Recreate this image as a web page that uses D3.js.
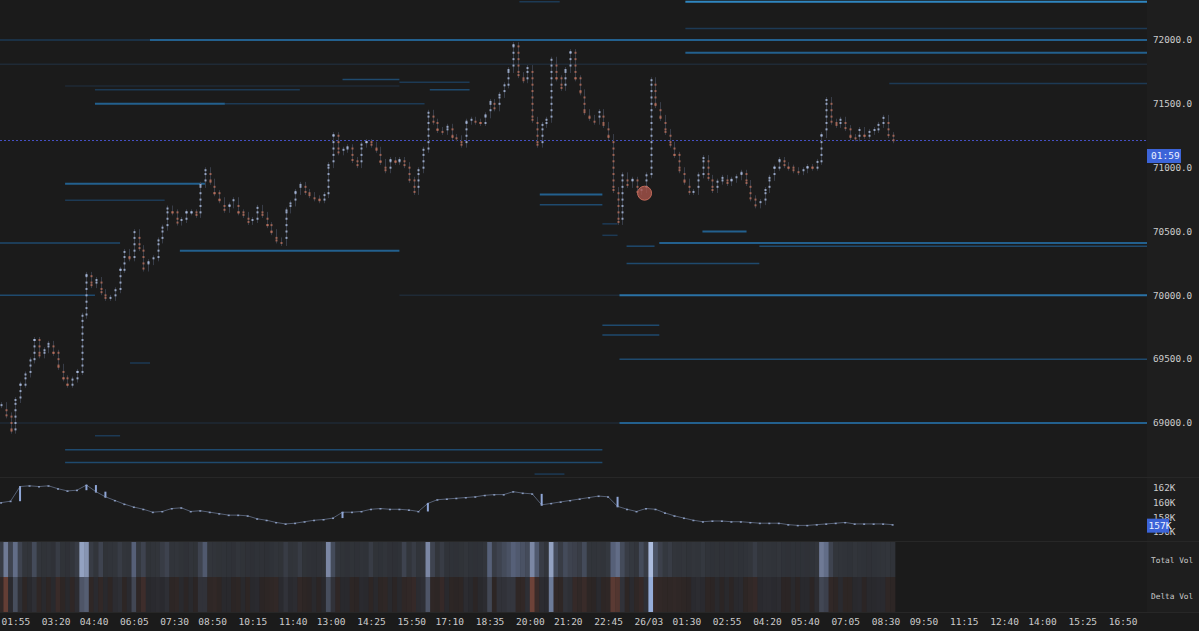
<!DOCTYPE html>
<html><head><meta charset="utf-8">
<script src="https://cdn.jsdelivr.net/npm/d3@7"></script>
<style>html,body{margin:0;padding:0;background:#1b1b1b;overflow:hidden}</style>
</head><body>
<svg id="chart" width="1199" height="631"></svg>
<script>
// ---------------- DATA ----------------
const candleStart = "2024-03-25T01:25";
const candleMinutes = 10;
const closes = [69140,69060,68940,69180,69300,69380,69490,69650,69530,69570,
69620,69550,69440,69350,69300,69340,69400,69840,70160,70080,
70120,70025,69980,69980,70040,70200,70340,70290,70495,70370,
70210,70260,70290,70430,70530,70680,70650,70570,70590,70650,
70650,70630,70865,70980,70890,70800,70745,70670,70705,70745,
70650,70630,70575,70590,70685,70630,70550,70495,70430,70410,
70665,70720,70810,70865,70810,70785,70760,70745,70785,71020,
71255,71120,71140,71160,71060,71020,71180,71200,71180,71140,
71045,70980,71060,71045,71060,71020,70905,70810,70980,71140,
71430,71360,71295,71280,71320,71240,71230,71180,71360,71375,
71360,71350,71410,71515,71465,71570,71645,71765,71960,71725,
71685,71780,71375,71180,71335,71375,71845,71700,71625,71765,
71905,71700,71590,71435,71390,71360,71435,71335,71240,70825,
70575,70940,70865,70905,70810,70825,70940,71685,71490,71390,
71280,71180,71100,70980,70890,70810,70810,70940,71075,70920,
70825,70890,70920,70880,70905,70925,70960,70880,70760,70705,
70730,70825,70920,71000,71060,71020,71000,70980,70965,70980,
71005,71000,71045,71255,71530,71360,71335,71375,71310,71240,
71230,71295,71250,71280,71295,71335,71390,71255,71215];

const oiStart = "2024-03-25T01:25";
const oiMinutes = 20;
const openInterestK = [160.0,160.2,162.2,162.3,162.2,162.3,161.9,161.6,161.7,162.4,
161.5,160.8,160.3,159.8,159.4,159.1,158.7,158.8,159.2,159.3,
158.8,158.9,158.7,158.5,158.3,158.3,158.2,157.8,157.6,157.3,
157.1,157.2,157.4,157.6,157.7,157.9,158.7,158.7,158.8,159.1,
159.2,159.1,159.1,159.0,158.8,159.9,160.4,160.5,160.6,160.7,
160.8,161.0,161.1,161.1,161.5,161.3,161.2,159.7,159.9,160.1,
160.3,160.5,160.7,160.9,160.8,159.5,159.1,158.8,159.2,159.1,
158.6,158.2,157.9,157.6,157.4,157.5,157.5,157.4,157.4,157.3,
157.2,157.2,157.2,157.0,156.9,156.9,157.0,157.1,157.2,157.3,
157.1,157.1,157.1,157.1,157.0];

const totalVol = [35,70,40,65,40,30,28,45,30,25,28,22,35,25,22,30,35,85,80,35,
30,40,25,28,30,35,30,28,60,32,40,25,28,30,35,40,28,30,25,22,
28,25,40,55,30,28,25,26,24,22,30,25,22,20,24,22,20,24,28,25,
35,28,30,35,25,22,20,22,25,75,45,30,25,22,25,22,26,24,35,25,
24,28,22,20,24,40,30,35,28,30,75,40,30,35,26,24,22,25,30,24,
22,24,30,60,35,40,45,50,60,55,50,45,75,55,35,30,85,45,35,45,
40,38,35,45,30,28,30,28,32,60,65,45,35,32,30,45,35,95,50,38,
32,35,30,28,30,26,30,28,32,26,24,25,22,24,22,25,24,26,30,35,
28,30,28,26,30,24,22,24,22,24,22,24,30,70,65,40,30,28,26,24,
30,26,24,22,24,26,28,30,26];

const deltaVol = [-20,-60,10,50,20,-10,5,20,-15,5,-10,5,-30,-10,5,-15,15,55,60,-15,
10,-20,5,-10,15,20,-10,10,45,-15,-35,5,10,15,10,20,-10,-15,5,-5,
5,-5,25,25,-15,-20,-10,5,5,-5,-10,5,-10,5,10,-5,-10,-15,-20,10,
25,10,15,-20,-10,-5,5,-5,5,50,25,-15,5,5,-10,-5,10,5,-10,5,
-10,-15,5,-5,5,-15,-20,-25,15,20,55,-15,-10,-25,5,-10,-5,-10,15,5,
-5,5,15,45,-10,25,25,30,30,-15,-20,20,-65,-30,15,10,75,-20,-15,25,
20,-25,-20,-30,-10,-5,10,-10,-15,-55,-50,25,-10,10,-15,-25,20,95,-25,-20,
-15,-15,-20,-15,-10,-5,10,15,10,-10,-5,5,-5,5,-5,5,10,-10,-20,-25,
10,15,15,10,15,-5,-5,5,-5,5,5,-5,15,45,40,-20,-10,10,-10,-10,
5,10,-5,5,5,10,10,-15,-10];

// resting liquidity: [price, start, end, level]
const liquidity = [
  [72300,"2024-03-26T01:28","2024-03-26T18:00",3],
  [72300,"2024-03-25T19:38","2024-03-25T21:03",1],
  [72090,"2024-03-26T01:28","2024-03-26T18:00",1],
  [72000,"2024-03-25T01:00","2024-03-25T06:39",1],
  [72000,"2024-03-25T06:39","2024-03-26T18:00",2],
  [71900,"2024-03-26T01:28","2024-03-26T18:00",2],
  [71810,"2024-03-25T01:00","2024-03-26T18:00",0.5],
  [71660,"2024-03-26T08:38","2024-03-26T18:00",1],
  [71640,"2024-03-25T03:40","2024-03-25T15:25",0.5],
  [71690,"2024-03-25T13:25","2024-03-25T15:25",1.5],
  [71670,"2024-03-25T15:25","2024-03-25T17:53",1],
  [71610,"2024-03-25T04:43","2024-03-25T11:55",1],
  [71610,"2024-03-25T16:29","2024-03-25T17:53",1.5],
  [71500,"2024-03-25T04:43","2024-03-25T09:17",2],
  [71500,"2024-03-25T09:17","2024-03-25T16:18",1],
  [70875,"2024-03-25T03:40","2024-03-25T08:35",2],
  [70745,"2024-03-25T03:40","2024-03-25T07:10",1],
  [70790,"2024-03-25T20:21","2024-03-25T22:33",2],
  [70710,"2024-03-25T20:21","2024-03-25T22:33",1.5],
  [70560,"2024-03-25T22:33","2024-03-25T23:05",1],
  [70470,"2024-03-25T22:33","2024-03-25T23:05",1],
  [70500,"2024-03-26T02:04","2024-03-26T03:37",2],
  [70410,"2024-03-25T01:00","2024-03-25T05:36",1.5],
  [70410,"2024-03-26T00:33","2024-03-26T18:00",2],
  [70385,"2024-03-25T23:24","2024-03-26T00:23",1.5],
  [70385,"2024-03-26T04:04","2024-03-26T18:00",1.5],
  [70350,"2024-03-25T07:42","2024-03-25T15:25",2],
  [70250,"2024-03-25T23:24","2024-03-26T04:04",1.5],
  [70000,"2024-03-25T01:00","2024-03-25T04:43",1.5],
  [70000,"2024-03-25T15:25","2024-03-25T23:09",0.5],
  [70000,"2024-03-25T23:09","2024-03-26T18:00",2.5],
  [69765,"2024-03-25T22:33","2024-03-26T00:33",1.5],
  [69690,"2024-03-25T22:33","2024-03-26T00:33",1.5],
  [69500,"2024-03-25T23:09","2024-03-26T18:00",1.5],
  [69470,"2024-03-25T05:57","2024-03-25T06:39",1],
  [69000,"2024-03-25T01:00","2024-03-25T23:09",0.5],
  [69000,"2024-03-25T23:09","2024-03-26T18:00",2],
  [68900,"2024-03-25T04:43","2024-03-25T05:36",1],
  [68790,"2024-03-25T03:40","2024-03-25T22:33",1.5],
  [68690,"2024-03-25T03:40","2024-03-25T22:33",1.5],
  [68600,"2024-03-25T20:10","2024-03-25T21:13",1]
];

// large trades: [time, price, radius]
const bubbles = [["2024-03-26T00:02",70800,7]];

const priceTicks = [69000,69500,70000,70500,71000,71500,72000];
const oiTicks = [156,158,160,162];
const timeTickTimes = ["2024-03-25T01:55","2024-03-25T03:20","2024-03-25T04:40","2024-03-25T06:05",
"2024-03-25T07:30","2024-03-25T08:50","2024-03-25T10:15","2024-03-25T11:40","2024-03-25T13:00",
"2024-03-25T14:25","2024-03-25T15:50","2024-03-25T17:10","2024-03-25T18:35","2024-03-25T20:00",
"2024-03-25T21:20","2024-03-25T22:45","2024-03-26T00:10","2024-03-26T01:30","2024-03-26T02:55",
"2024-03-26T04:20","2024-03-26T05:40","2024-03-26T07:05","2024-03-26T08:30","2024-03-26T09:50",
"2024-03-26T11:15","2024-03-26T12:40","2024-03-26T14:00","2024-03-26T15:25","2024-03-26T16:50"];
const timeTickLabels = ["01:55","03:20","04:40","06:05","07:30","08:50","10:15","11:40","13:00",
"14:25","15:50","17:10","18:35","20:00","21:20","22:45","26/03","01:30","02:55","04:20","05:40",
"07:05","08:30","09:50","11:15","12:40","14:00","15:25","16:50"];
const candleTimer = "01:59";
const lastOILabel = "157K";
const paneLabels = ["Total Vol","Delta Vol"];

// ---------------- LAYOUT ----------------
const W = 1199, H = 631, plotR = 1147;
const pane = {price:[0,477], oi:[478,541], tot:[542,577], del:[577,612]};
const font = "'DejaVu Sans Mono', 'Liberation Mono', monospace";
const svg = d3.select("#chart");
const parse = d3.isoParse;
const MIN = 60000;

svg.append("rect").attr("width",W).attr("height",H).attr("fill","#1b1b1b");
svg.append("rect").attr("x",plotR).attr("width",W-plotR).attr("height",612).attr("fill","#1e1e1e");

const x = d3.scaleTime()
  .domain([parse("2024-03-25T01:55"), parse("2024-03-26T16:50")])
  .range([15.3, 1122.6]);
const y = d3.scaleLinear().domain([69000,72000]).range([423,40]);
const yOI = d3.scaleLinear().domain([156,162]).range([532,488]);

const defs = svg.append("defs");
defs.append("clipPath").attr("id","clipP").append("rect").attr("x",0).attr("y",0).attr("width",plotR).attr("height",477);
defs.append("clipPath").attr("id","clipO").append("rect").attr("x",0).attr("y",478).attr("width",plotR).attr("height",63);

// pane separators
[477.5,541.5,612.5].forEach(v=>svg.append("line").attr("x1",0).attr("x2",W).attr("y1",v).attr("y2",v)
  .attr("stroke","#272727").attr("stroke-width",1));

// ---------------- PRICE PANE ----------------
const gP = svg.append("g").attr("clip-path","url(#clipP)");
const liqColor = d3.scaleLinear().domain([0.5,1,1.5,2,2.5,3])
  .range(["#1f2a36","#1d3a55","#1f4a6e","#23608e","#2a72a6","#2f86c0"]);
gP.selectAll("line.liq").data(liquidity).join("line").attr("class","liq")
  .attr("x1",d=>x(parse(d[1]))).attr("x2",d=>x(parse(d[2])))
  .attr("y1",d=>y(d[0])).attr("y2",d=>y(d[0]))
  .attr("stroke",d=>liqColor(d[3])).attr("stroke-width",d=>d[3]>=2?2:1.5);

const t0 = parse(candleStart).getTime();
const candles = closes.map((c,i)=>({t:new Date(t0+i*candleMinutes*MIN), o:i?closes[i-1]:c, c}));

// current price dotted line
const last = closes[closes.length-1];
gP.append("line").attr("x1",0).attr("x2",plotR).attr("y1",Math.round(y(last))+0.5).attr("y2",Math.round(y(last))+0.5)
  .attr("stroke","#4650c4").attr("stroke-width",1).attr("stroke-dasharray","2,2");

gP.selectAll("line.wick").data(candles).join("line").attr("class","wick")
  .attr("x1",d=>Math.round(x(d.t))+0.5).attr("x2",d=>Math.round(x(d.t))+0.5)
  .attr("y1",d=>y(Math.max(d.o,d.c))-3).attr("y2",d=>y(Math.min(d.o,d.c))+3)
  .attr("stroke","#383d48").attr("stroke-width",1);

const dots = [];
candles.forEach(d=>{
  const lo=Math.min(d.o,d.c), hi=Math.max(d.o,d.c), up=d.c>=d.o;
  for(let p=Math.ceil(lo/50)*50; p<=hi; p+=50) dots.push({t:d.t,p,up});
  dots.push({t:d.t,p:d.c,up});
});
gP.selectAll("rect.dot").data(dots).join("rect").attr("class","dot")
  .attr("x",d=>Math.round(x(d.t))-0.5).attr("y",d=>y(d.p)-1)
  .attr("width",2).attr("height",2)
  .attr("fill",d=>d.up?"#aebfe2":"#b8705e").attr("opacity",0.8);

gP.selectAll("circle.big").data(bubbles).join("circle").attr("class","big")
  .attr("cx",d=>x(parse(d[0]))).attr("cy",d=>y(d[1])).attr("r",d=>d[2])
  .attr("fill","#a8544a").attr("fill-opacity",0.8).attr("stroke","#c06a5a").attr("stroke-width",1);

// price axis labels
svg.append("g").selectAll("text").data(priceTicks).join("text")
  .attr("x",1153).attr("y",d=>y(d)).attr("dy","0.35em")
  .attr("font-family",font).attr("font-size",9.3).attr("fill","#cccccc")
  .text(d=>d3.format(".1f")(d));

// candle timer box
const ty = Math.round(y(last))+9;
svg.append("rect").attr("x",plotR).attr("y",ty).attr("width",34).attr("height",14).attr("fill","#3c64d8");
svg.append("text").attr("x",plotR+4).attr("y",ty+7).attr("dy","0.35em")
  .attr("font-family",font).attr("font-size",9.5).attr("fill","#eef2ff").text(candleTimer);

// ---------------- OI PANE ----------------
const gO = svg.append("g").attr("clip-path","url(#clipO)");
const o0 = parse(oiStart).getTime();
const oi = openInterestK.map((v,i)=>({t:new Date(o0+i*oiMinutes*MIN), v}));
gO.append("path").datum(oi)
  .attr("d",d3.line().x(d=>x(d.t)).y(d=>yOI(d.v)))
  .attr("fill","none").attr("stroke","#555f73").attr("stroke-width",1);
gO.selectAll("rect.oid").data(oi).join("rect").attr("class","oid")
  .attr("x",d=>x(d.t)-1).attr("y",d=>yOI(d.v)-0.5).attr("width",2).attr("height",1.5)
  .attr("fill","#8a9cc0");
gO.selectAll("line.oij").data(oi.slice(1).map((d,i)=>({t:d.t,a:oi[i].v,b:d.v})).filter(d=>Math.abs(d.b-d.a)>0.6))
  .join("line").attr("class","oij")
  .attr("x1",d=>x(d.t)).attr("x2",d=>x(d.t)).attr("y1",d=>yOI(d.a)).attr("y2",d=>yOI(d.b))
  .attr("stroke","#8fa6d6").attr("stroke-width",2);

svg.append("g").selectAll("text").data(oiTicks).join("text")
  .attr("x",1153).attr("y",d=>yOI(d)).attr("dy","0.35em")
  .attr("font-family",font).attr("font-size",9.3).attr("fill","#cccccc")
  .text(d=>d+"K");
const by = yOI(157);
svg.append("rect").attr("x",plotR).attr("y",by-6).attr("width",22).attr("height",14).attr("fill","#3c64d8");
svg.append("text").attr("x",plotR+1.5).attr("y",by+1).attr("dy","0.35em")
  .attr("font-family",font).attr("font-size",9.5).attr("fill","#eef2ff").text(lastOILabel);

// ---------------- HEAT STRIPS ----------------
const volColor = d3.scaleLinear().domain([0,30,60,100]).range(["#25272b","#32353b","#566078","#b8c9ec"]);
const posColor = d3.scalePow().exponent(2).domain([0,100]).range(["#29292d","#a2bbec"]);
const negColor = d3.scalePow().exponent(2).domain([0,100]).range(["#2b2525","#c86a52"]);
const cw = x(new Date(t0+candleMinutes*MIN)) - x(new Date(t0));
svg.append("g").selectAll("rect").data(candles).join("rect")
  .attr("x",d=>x(d.t)-cw/2).attr("y",pane.tot[0]).attr("width",cw+0.4).attr("height",pane.tot[1]-pane.tot[0])
  .attr("fill",(d,i)=>volColor(totalVol[i]));
svg.append("g").selectAll("rect").data(candles).join("rect")
  .attr("x",d=>x(d.t)-cw/2).attr("y",pane.del[0]).attr("width",cw+0.4).attr("height",pane.del[1]-pane.del[0])
  .attr("fill",(d,i)=>deltaVol[i]>=0?posColor(deltaVol[i]):negColor(-deltaVol[i]));

svg.append("g").selectAll("text").data(paneLabels).join("text")
  .attr("x",1151).attr("y",(d,i)=>i?596:560).attr("dy","0.35em")
  .attr("font-family",font).attr("font-size",7.8).attr("fill","#cccccc").text(d=>d);

// ---------------- TIME AXIS ----------------
const ticks = timeTickTimes.map(parse);
const xAxis = d3.axisBottom(x).tickValues(ticks).tickSize(0)
  .tickFormat((d,i)=>timeTickLabels[i]);
const ga = svg.append("g").attr("transform","translate(0,613)").call(xAxis);
ga.select(".domain").remove();
ga.selectAll("text").attr("font-family",font).attr("font-size",9.5).attr("fill","#cccccc").attr("dy","0.95em");
</script>
</body></html>
